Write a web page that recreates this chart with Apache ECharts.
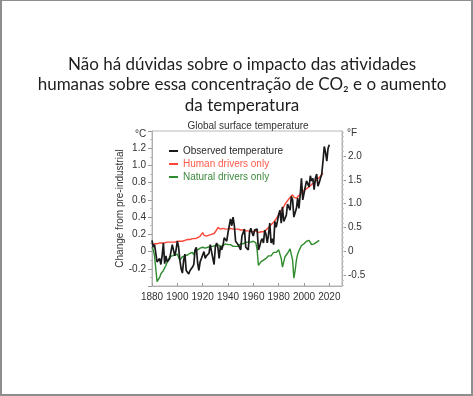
<!DOCTYPE html>
<html>
<head>
<meta charset="utf-8">
<script src="https://cdn.jsdelivr.net/npm/echarts@6/dist/echarts.min.js"></script>
<style>
  html, body { margin: 0; padding: 0; background: #fff; }
  #frame { position: absolute; left: 0; top: 0; width: 473px; height: 396px; box-sizing: border-box;
           border: 2px solid #8e8e8e; border-top-width: 1px; }
  #chart { position: absolute; left: 0; top: 0; width: 473px; height: 396px; }
</style>
</head>
<body>
<div id="chart"></div>
<div id="frame"></div>
<script>
// ---- data ----
const slideTitle = 'Não há dúvidas sobre o impacto das atividades\nhumanas sobre essa concentração de CO₂ e o aumento\nda temperatura';
const chartTitle = 'Global surface temperature';
const seriesNames = ['Observed temperature', 'Human drivers only', 'Natural drivers only'];
const xTicks = [1880, 1900, 1920, 1940, 1960, 1980, 2000, 2020];
const fTicks = [-0.5, 0, 0.5, 1.0, 1.5, 2.0];

const observedStart = 1880;
const observed = [
  0.13, 0.05, 0.08, -0.02, -0.12, -0.12, -0.08, -0.15, -0.05, 0.10,
  -0.14, -0.05, -0.12, -0.13, -0.08, -0.06, 0.08, 0.10, -0.05, 0.02,
  0.12, 0.05, -0.10, -0.20, -0.25, -0.10, -0.03, -0.22, -0.24, -0.26,
  -0.22, -0.23, -0.18, -0.15, 0.02, 0.05, -0.13, -0.22, -0.12, -0.08,
  -0.06, 0.00, -0.08, -0.05, -0.06, -0.02, 0.08, 0.00, -0.02, -0.15,
  0.05, 0.10, 0.05, -0.08, 0.06, 0.02, 0.07, 0.16, 0.18, 0.12,
  0.22, 0.30, 0.38, 0.30, 0.40, 0.30, 0.12, 0.10, 0.08, 0.05,
  0.02, 0.18, 0.20, 0.26, 0.05, 0.05, 0.02, 0.22, 0.27, 0.22,
  0.18, 0.25, 0.24, 0.26, 0.02, 0.06, 0.12, 0.15, 0.10, 0.25,
  0.20, 0.10, 0.20, 0.33, 0.10, 0.15, 0.08, 0.35, 0.28, 0.35,
  0.43, 0.48, 0.33, 0.52, 0.35, 0.33, 0.42, 0.55, 0.56, 0.48,
  0.64, 0.60, 0.40, 0.42, 0.50, 0.62, 0.50, 0.66, 0.85, 0.60,
  0.60, 0.75, 0.82, 0.82, 0.75, 0.88, 0.82, 0.85, 0.72, 0.85,
  0.90, 0.76, 0.80, 0.85, 0.90, 1.05, 1.22, 1.15, 1.05, 1.20,
  1.24
];

const humanStart = 1880;
const human = [
  0.08, 0.08, 0.09, 0.08, 0.09, 0.09, 0.10, 0.09, 0.10, 0.10,
  0.10, 0.10, 0.11, 0.10, 0.11, 0.11, 0.11, 0.12, 0.11, 0.12,
  0.12, 0.12, 0.12, 0.13, 0.12, 0.13, 0.13, 0.13, 0.14, 0.14,
  0.14, 0.14, 0.15, 0.15, 0.15, 0.16, 0.16, 0.17, 0.18, 0.19,
  0.22, 0.19, 0.18, 0.18, 0.19, 0.19, 0.20, 0.20, 0.21, 0.21,
  0.22, 0.25, 0.28, 0.26, 0.26, 0.26, 0.27, 0.26, 0.26, 0.27,
  0.26, 0.26, 0.27, 0.26, 0.26, 0.25, 0.26, 0.25, 0.26, 0.25,
  0.25, 0.26, 0.25, 0.24, 0.24, 0.25, 0.24, 0.24, 0.23, 0.24,
  0.23, 0.23, 0.24, 0.23, 0.22, 0.22, 0.23, 0.22, 0.23, 0.24,
  0.25, 0.26, 0.28, 0.30, 0.31, 0.32, 0.34, 0.36, 0.38, 0.40,
  0.43, 0.45, 0.48, 0.50, 0.52, 0.55, 0.57, 0.59, 0.61, 0.63,
  0.65, 0.66, 0.63, 0.61, 0.62, 0.63, 0.65, 0.66, 0.68, 0.69,
  0.71, 0.72, 0.73, 0.74, 0.75, 0.77, 0.78, 0.79, 0.80, 0.81,
  0.83, 0.84, 0.86, 0.87, 0.89, 0.91
];

const naturalStart = 1880;
const natural = [
  0.05, 0.02, -0.05, -0.20, -0.35, -0.33, -0.30, -0.26, -0.25, -0.22,
  -0.20, -0.16, -0.12, -0.10, -0.06, -0.08, -0.05, -0.03, -0.04, -0.02,
  -0.03, -0.05, -0.10, -0.08, -0.06, -0.06, -0.05, -0.06, -0.04, -0.03,
  -0.02, 0.00, -0.01, -0.04, 0.01, 0.03, 0.02, 0.03, 0.04, 0.04,
  0.05, 0.05, 0.04, 0.06, 0.05, 0.06, 0.06, 0.05, 0.06, 0.07,
  0.07, 0.06, 0.08, 0.07, 0.06, 0.08, 0.07, 0.08, 0.09, 0.08,
  0.08, 0.07, 0.08, 0.06, 0.06, 0.05, 0.06, 0.04, 0.06, 0.07,
  0.09, 0.08, 0.09, 0.10, 0.11, 0.10, 0.11, 0.12, 0.11, 0.11,
  0.12, 0.11, 0.10, 0.02, -0.16, -0.15, -0.12, -0.13, -0.10, -0.09,
  -0.08, -0.06, -0.05, -0.04, -0.05, -0.03, -0.01, 0.00, -0.01, 0.01,
  0.02, 0.00, -0.08, -0.18, -0.12, -0.06, -0.05, -0.02, 0.00, 0.03,
  0.05, -0.10, -0.31, -0.22, -0.10, -0.03, 0.01, 0.04, 0.07, 0.08,
  0.09, 0.10, 0.12, 0.14, 0.13, 0.12, 0.08, 0.07, 0.09, 0.10,
  0.11, 0.12, 0.13
];

// ---- build ----
function pairs(start, vals) { return vals.map((v, i) => [start + i, v]); }
const C2F = 1.8;
const yMinC = -0.4, yMaxC = 1.4;
const fMinor = [];
for (let k = -7; k <= 25; k++) fMinor.push(k / 10);

const FONT = '"Liberation Sans", Arial, sans-serif';
const colObs = '#1a1a1a', colHum = '#ff4636', colNat = '#2e8b2e';

const chart = echarts.init(document.getElementById('chart'), null, { renderer: 'canvas' });
chart.setOption({
  backgroundColor: '#ffffff',
  animation: false,
  title: [
    { text: slideTitle, left: 237, top: 49, textAlign: 'center',
      textStyle: { fontFamily: 'Lato, "Open Sans", sans-serif', fontWeight: 'normal', fontSize: 17, lineHeight: 20.5, color: '#1e1e1e' } },
    { text: chartTitle, left: 243, top: 116, textAlign: 'center',
      textStyle: { fontFamily: FONT, fontWeight: 'normal', fontSize: 10, color: '#333' } }
  ],
  graphic: [
    { type: 'text', left: 135, top: 129, style: { text: '°C', font: '10px ' + FONT, fill: '#333' } },
    { type: 'text', left: 347, top: 128, style: { text: '°F', font: '10px ' + FONT, fill: '#333' } }
  ],
  legend: {
    orient: 'vertical', left: 164, top: 141, itemWidth: 9, itemHeight: 2, itemGap: 3, icon: 'rect',
    textStyle: { fontFamily: FONT, fontSize: 10 },
    data: [
      { name: seriesNames[0], textStyle: { color: '#2a2a2a' } },
      { name: seriesNames[1], textStyle: { color: '#ff5a4a' } },
      { name: seriesNames[2], textStyle: { color: '#3d8a3d' } }
    ]
  },
  grid: { left: 152, top: 131, width: 190, height: 155, show: true, borderColor: '#b8b8b8', borderWidth: 1, containLabel: false },
  xAxis: {
    type: 'value', min: 1880, max: 2030, interval: 20,
    axisLine: { show: true, onZero: false, lineStyle: { color: '#b0b0b0' } },
    axisTick: { show: true, inside: true, length: 3, lineStyle: { color: '#999' } },
    axisLabel: { fontFamily: FONT, fontSize: 10, color: '#333', margin: 6, showMaxLabel: false,
      formatter: v => (v > 2020 ? '' : String(v)) },
    splitLine: { show: false }
  },
  yAxis: [
    {
      type: 'value', position: 'left', min: yMinC, max: yMaxC, interval: 0.2,
      name: 'Change from pre-industrial', nameLocation: 'middle', nameGap: 24, nameRotate: 90,
      nameTextStyle: { fontFamily: FONT, fontSize: 10, color: '#333' },
      axisLine: { show: true, onZero: false, lineStyle: { color: '#b0b0b0' } },
      axisTick: { show: true, inside: false, length: 4, lineStyle: { color: '#999' } },
      minorTick: { show: true, splitNumber: 2, length: 2, lineStyle: { color: '#bbb' } },
      axisLabel: { fontFamily: FONT, fontSize: 10, color: '#333', margin: 6,
        formatter: v => (v < -0.39 || v > 1.39) ? '' : (Math.abs(v) < 1e-9 ? '0' : v.toFixed(1)) },
      splitLine: { show: false }
    },
    {
      type: 'value', position: 'right', min: yMinC * C2F, max: yMaxC * C2F,
      axisLine: { show: true, onZero: false, lineStyle: { color: '#b0b0b0' } },
      axisTick: { show: true, inside: false, length: 4, customValues: fTicks, lineStyle: { color: '#999' } },
      axisLabel: { fontFamily: FONT, fontSize: 10, color: '#333', margin: 6, customValues: fTicks,
        formatter: v => (Math.abs(v) < 1e-9 ? '0' : v.toFixed(1)) },
      splitLine: { show: false }
    },
    {
      type: 'value', position: 'right', min: yMinC * C2F, max: yMaxC * C2F,
      axisLine: { show: false, onZero: false },
      axisTick: { show: true, inside: false, length: 2, customValues: fMinor, lineStyle: { color: '#c4c4c4' } },
      axisLabel: { show: false },
      splitLine: { show: false }
    }
  ],
  series: [
    { name: seriesNames[1], type: 'line', yAxisIndex: 0, showSymbol: false, z: 2,
      data: pairs(humanStart, human), lineStyle: { color: colHum, width: 1.4 }, itemStyle: { color: colHum } },
    { name: seriesNames[2], type: 'line', yAxisIndex: 0, showSymbol: false, z: 2,
      data: pairs(naturalStart, natural), lineStyle: { color: colNat, width: 1.4 }, itemStyle: { color: colNat } },
    { name: seriesNames[0], type: 'line', yAxisIndex: 0, showSymbol: false, z: 3,
      data: pairs(observedStart, observed), lineStyle: { color: colObs, width: 1.7 }, itemStyle: { color: colObs } }
  ]
});
</script>
</body>
</html>
